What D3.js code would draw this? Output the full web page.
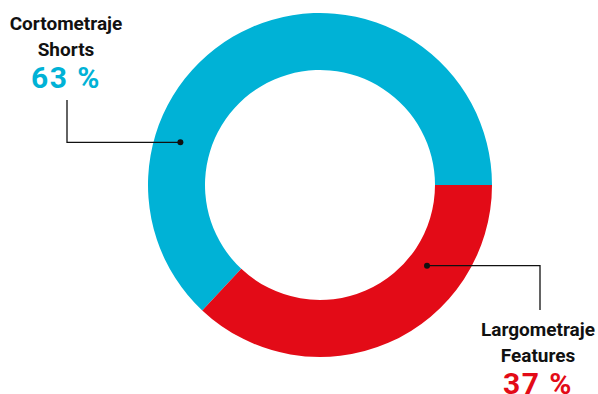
<!DOCTYPE html>
<html><head><meta charset="utf-8">
<script src="https://cdn.jsdelivr.net/npm/d3@7/dist/d3.min.js"></script>
<style>body{margin:0;background:#fff}svg{display:block}
text{font-family:"Liberation Sans Narrow","Roboto","Open Sans",sans-serif;font-weight:bold}</style>
</head><body><svg id="c" width="598" height="394"></svg>
<script>
const categories = ["Cortometraje", "Largometraje"];
const subtitles = ["Shorts", "Features"];
const values = [63, 37];
const colors = ["#00b2d6", "#e30b17"];

const svg = d3.select("#c");
const cx = 320, cy = 185, rOuter = 172, rInner = 115;
const g = svg.append("g").attr("transform", `translate(${cx},${cy})`);

const total = d3.sum(values);
const start = Math.PI / 2 - (values[0] / total) * 2 * Math.PI;
const pie = d3.pie().sort(null).startAngle(start).endAngle(start + 2 * Math.PI);
const arcs = pie(values);
const arc = d3.arc().innerRadius(rInner).outerRadius(rOuter);

g.selectAll("path").data(arcs).enter().append("path")
  .attr("d", arc).attr("fill", (d, i) => colors[i]);

// leader lines
const pt = (ang, r) => [r * Math.sin(ang), -r * Math.cos(ang)];
const dotAngles = [-73 * Math.PI / 180, 127 * Math.PI / 180];
const dotR = [146, 134];
const bends = [{x: 67 - cx, y2: 100 - cy}, {x: 540 - cx, y2: 310 - cy}];

arcs.forEach((d, i) => {
  const [px, py] = pt(dotAngles[i], dotR[i]);
  const b = bends[i];
  g.append("path")
    .attr("d", `M${px},${py}H${b.x}V${b.y2}`)
    .attr("fill", "none").attr("stroke", "#111").attr("stroke-width", 1.3);
  g.append("circle").attr("cx", px).attr("cy", py).attr("r", 3).attr("fill", "#111");
});

const labelPos = [{x: 66, y: 30}, {x: 538, y: 336}];
labelPos.forEach((p, i) => {
  const t = svg.append("g").attr("transform", `translate(${p.x},${p.y})`).attr("text-anchor", "middle");
  t.append("text").attr("y", 0).attr("font-size", 19).attr("fill", "#111").text(categories[i]);
  t.append("text").attr("y", 26).attr("font-size", 19).attr("fill", "#111").text(subtitles[i]);
  t.append("text").attr("y", 58).attr("font-size", 30).attr("fill", colors[i])
    .attr("letter-spacing", 1.5).text(values[i] + " %");
});
</script></body></html>
